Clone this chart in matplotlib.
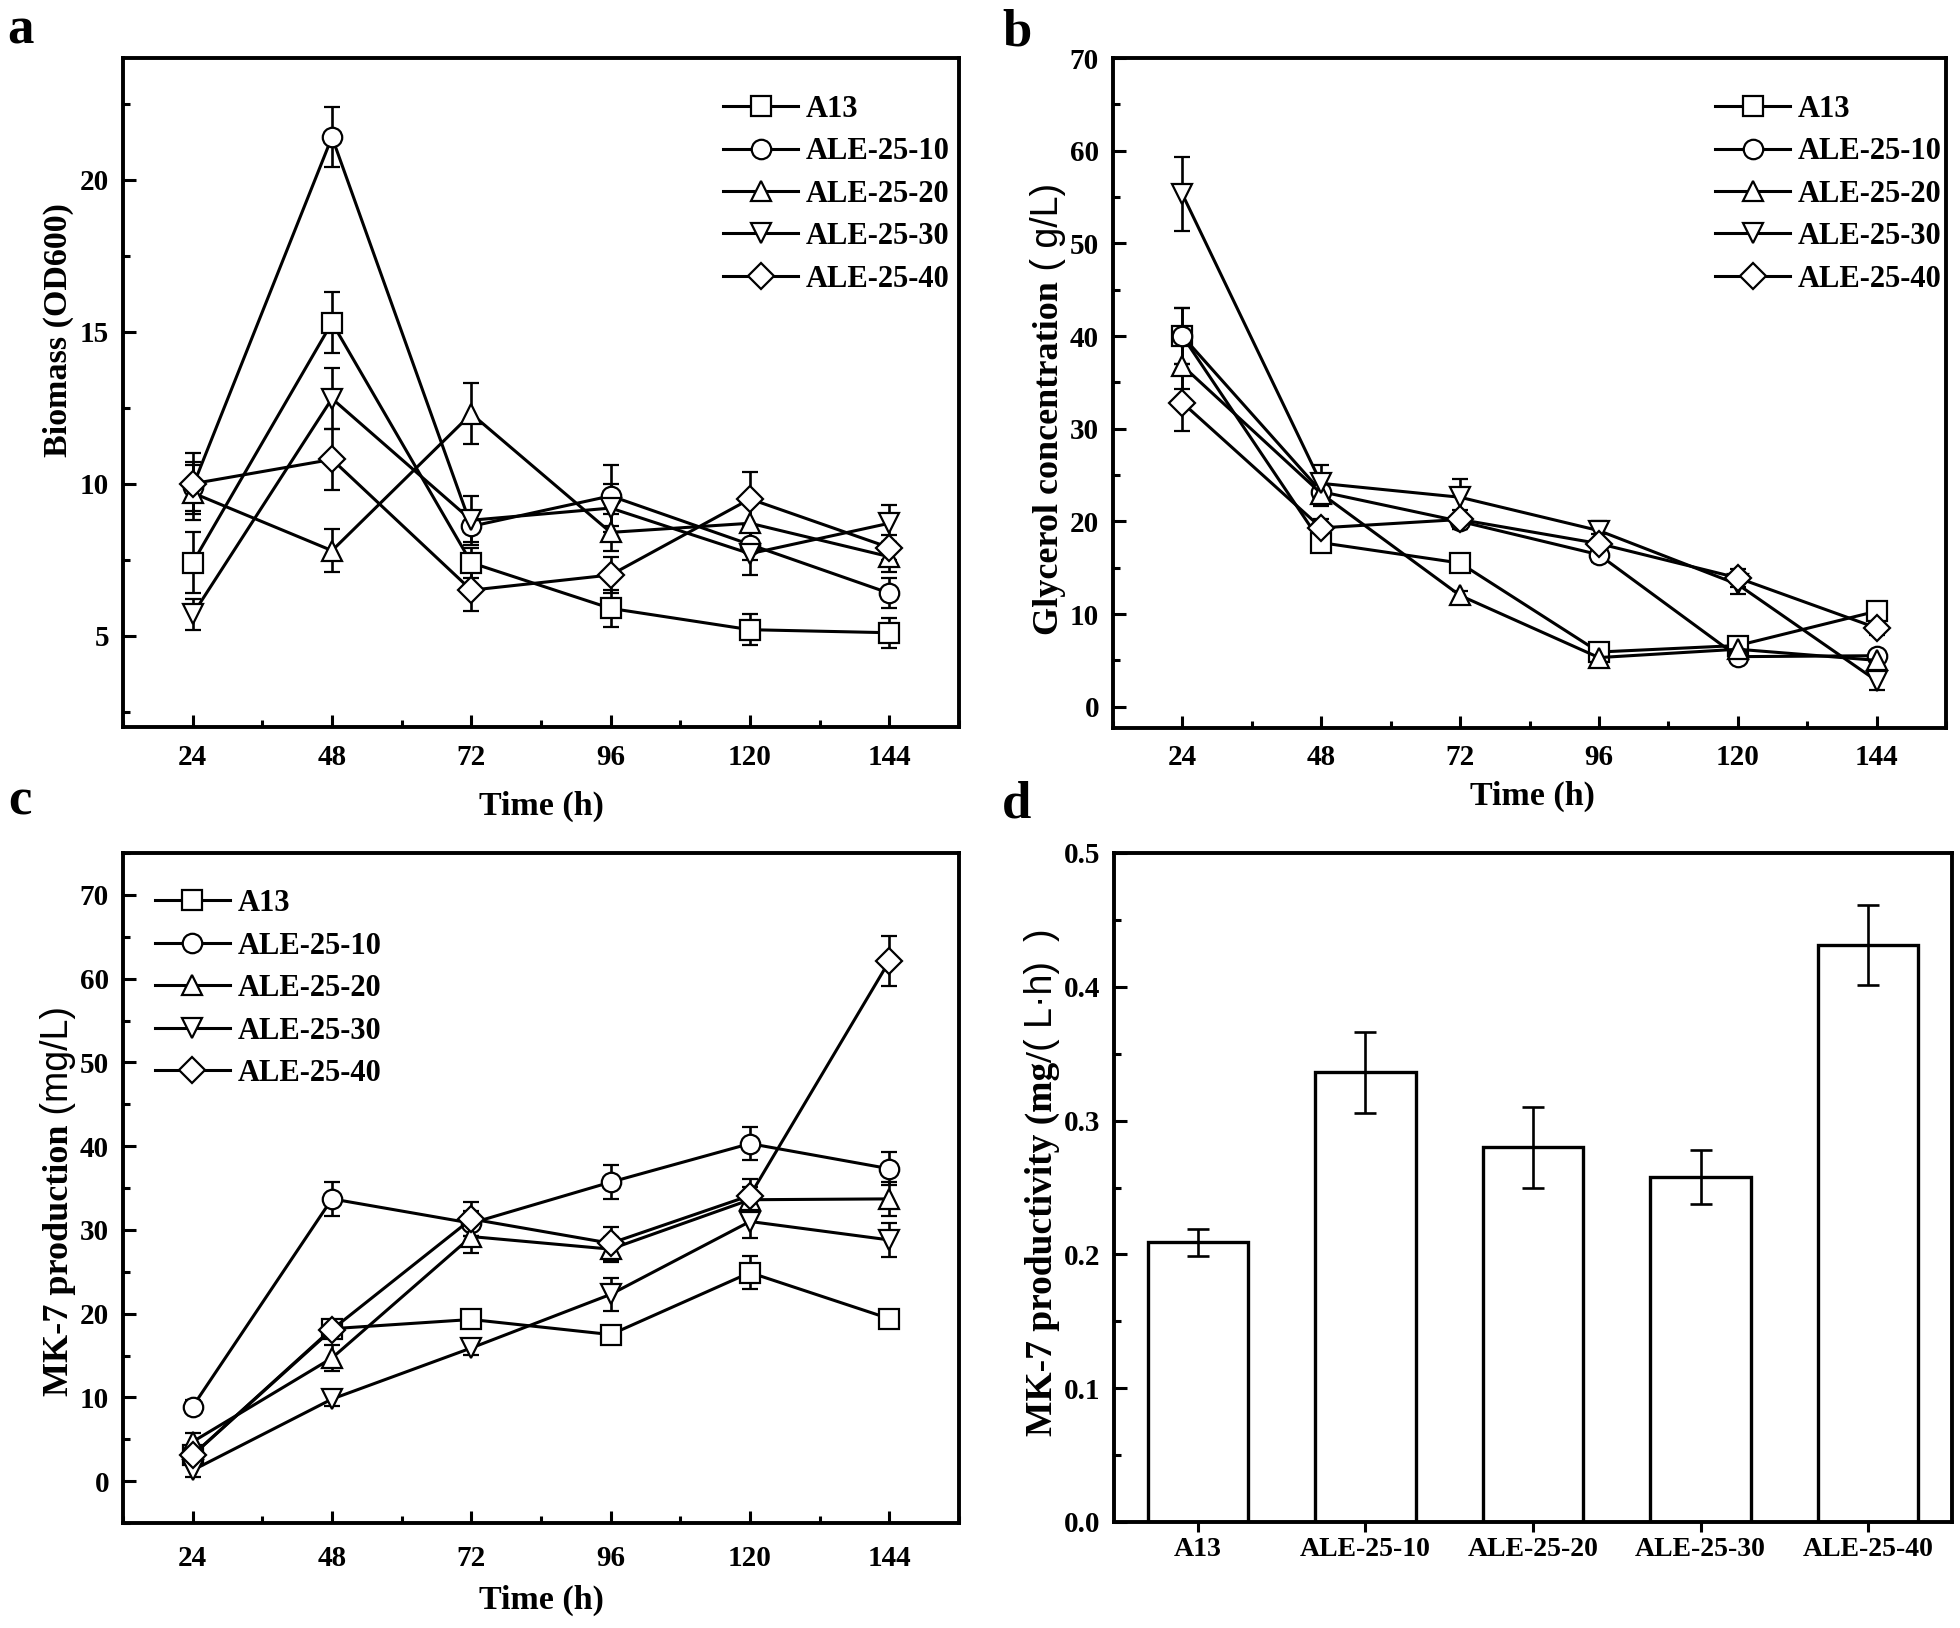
import matplotlib
matplotlib.use('Agg')
import matplotlib.pyplot as plt
from matplotlib.ticker import MultipleLocator
import numpy as np

plt.rcParams['font.family'] = ['Liberation Serif', 'Noto Sans CJK SC']
plt.rcParams['font.weight'] = 'bold'

# ---------------- data ----------------
hours = [24, 48, 72, 96, 120, 144]
strains = ['A13', 'ALE-25-10', 'ALE-25-20', 'ALE-25-30', 'ALE-25-40']
markers = ['s', 'o', '^', 'v', 'D']

# a: biomass (OD600)
bio_a13 = [7.4, 15.3, 7.4, 5.9, 5.2, 5.1]
bio_10 = [9.9, 21.4, 8.6, 9.6, 8.0, 6.4]
bio_20 = [9.7, 7.8, 12.3, 8.4, 8.7, 7.6]
bio_30 = [5.7, 12.8, 8.8, 9.2, 7.7, 8.7]
bio_40 = [10.0, 10.8, 6.5, 7.0, 9.5, 7.9]
bio_err_a13 = [1.0, 1.0, 0.5, 0.6, 0.5, 0.5]
bio_err_10 = [0.8, 1.0, 0.5, 1.0, 0.5, 0.5]
bio_err_20 = [0.9, 0.7, 1.0, 0.6, 0.7, 0.5]
bio_err_30 = [0.5, 1.0, 0.8, 0.8, 0.7, 0.6]
bio_err_40 = [1.0, 1.0, 0.7, 0.6, 0.9, 0.4]

# b: glycerol (g/L)
gly_a13 = [40.0, 17.7, 15.5, 5.9, 6.6, 10.3]
gly_10 = [40.0, 23.2, 20.0, 16.4, 5.4, 5.5]
gly_20 = [36.8, 23.0, 12.0, 5.3, 6.2, 5.0]
gly_30 = [55.3, 24.1, 22.6, 19.0, 13.2, 2.8]
gly_40 = [32.8, 19.3, 20.2, 17.6, 13.9, 8.5]
gly_err_a13 = [3.0, 0.5, 0.5, 0.5, 0.5, 0.5]
gly_err_10 = [3.0, 1.5, 0.8, 0.8, 0.5, 0.5]
gly_err_20 = [2.5, 1.0, 0.5, 0.5, 0.5, 0.5]
gly_err_30 = [4.0, 2.0, 2.0, 1.0, 1.0, 1.0]
gly_err_40 = [3.0, 1.0, 1.0, 1.0, 1.0, 0.8]

# c: MK-7 production (mg/L)
mk_a13 = [3.1, 18.2, 19.3, 17.5, 24.9, 19.4]
mk_10 = [8.9, 33.7, 30.8, 35.7, 40.3, 37.3]
mk_20 = [4.7, 14.7, 29.2, 27.7, 33.6, 33.7]
mk_30 = [1.3, 9.8, 15.9, 22.3, 31.0, 28.8]
mk_40 = [3.1, 18.1, 31.3, 28.4, 34.1, 62.1]
mk_err_a13 = [0.5, 0.8, 0.8, 0.8, 2.0, 0.8]
mk_err_10 = [0.8, 2.0, 1.5, 2.0, 2.0, 2.0]
mk_err_20 = [1.0, 1.5, 2.0, 1.5, 1.5, 2.0]
mk_err_30 = [0.8, 0.8, 0.8, 2.0, 2.0, 2.0]
mk_err_40 = [0.8, 1.0, 2.0, 2.0, 2.0, 3.0]

# d: MK-7 productivity
prod = [0.209, 0.336, 0.280, 0.258, 0.431]
prod_err = [0.010, 0.030, 0.030, 0.020, 0.030]

# ---------------- figure ----------------
W, H = 1960, 1628
fig = plt.figure(figsize=(W / 100, H / 100), dpi=100)


def px_axes(l, t, r, b):
    return fig.add_axes([l / W, 1 - b / H, (r - l) / W, (b - t) / H])


def style(ax, xpad):
    for s in ax.spines.values():
        s.set_linewidth(2.8)
    ax.tick_params(which='both', direction='in', top=False, right=False, width=2.2)
    ax.tick_params(which='major', length=9, labelsize=21)
    ax.tick_params(which='minor', length=5)
    ax.tick_params(axis='y', pad=10)
    ax.tick_params(axis='x', pad=xpad)


def vlabel(parts, xpix, ycpix):
    # rotated label made of pieces in different fonts, stacked along one baseline
    r = fig.canvas.get_renderer()
    ws = []
    for s, fam, wt, size, gap in parts:
        t = fig.text(0, 0, s, family=fam, weight=wt, size=size)
        ws.append(t.get_window_extent(r).width + gap)
        t.remove()
    y = ycpix + sum(ws) / 2
    for (s, fam, wt, size, gap), w in zip(parts, ws):
        y -= gap
        fig.text(xpix / W, 1 - y / H, s, family=fam, weight=wt, size=size,
                 rotation=90, rotation_mode='anchor', ha='left', va='baseline')
        y -= (w - gap)


def line_panel(ax, series, errs, ylim, ymaj, ymin, leg_xy):
    handles = []
    for vals, err, m, lab in zip(series, errs, markers, strains):
        cont = ax.errorbar(hours, vals, yerr=err, fmt='-', marker=m, color='black',
                           mfc='white', mec='black', mew=1.6, ms=14 if m != 'D' else 13,
                           lw=2.2, elinewidth=1.9, capsize=6, capthick=1.9, label=lab)
        handles.append(cont[0])
    ax.set_xlim(12, 156)
    ax.set_ylim(*ylim)
    ax.xaxis.set_major_locator(MultipleLocator(24))
    ax.xaxis.set_minor_locator(MultipleLocator(12))
    ax.yaxis.set_major_locator(MultipleLocator(ymaj))
    ax.yaxis.set_minor_locator(MultipleLocator(ymin))
    ax.legend(handles, strains, loc='upper left', bbox_to_anchor=leg_xy, frameon=False,
              fontsize=22, borderpad=0, borderaxespad=0, handlelength=2.45,
              handletextpad=0.25, labelspacing=0.44)


# a
ax_a = px_axes(123, 58, 959, 727)
style(ax_a, 12)
line_panel(ax_a, [bio_a13, bio_10, bio_20, bio_30, bio_40],
           [bio_err_a13, bio_err_10, bio_err_20, bio_err_30, bio_err_40],
           (2, 24), 5, 2.5, (0.718, 0.945))
ax_a.set_yticks([5, 10, 15, 20])

# b
ax_b = px_axes(1113, 58, 1946, 728)
style(ax_b, 11.5)
line_panel(ax_b, [gly_a13, gly_10, gly_20, gly_30, gly_40],
           [gly_err_a13, gly_err_10, gly_err_20, gly_err_30, gly_err_40],
           (-2.3, 70), 10, 5, (0.723, 0.945))

# c
ax_c = px_axes(123, 853, 959, 1523)
style(ax_c, 16)
line_panel(ax_c, [mk_a13, mk_10, mk_20, mk_30, mk_40],
           [mk_err_a13, mk_err_10, mk_err_20, mk_err_30, mk_err_40],
           (-5, 75), 10, 5, (0.038, 0.946))
ax_c.set_yticks(np.arange(0, 71, 10))

# d
ax_d = px_axes(1114, 853, 1952, 1522)
style(ax_d, 4)
xpos = np.arange(len(strains))
ax_d.bar(xpos, prod, width=0.6, color='white', edgecolor='black', linewidth=2.4)
ax_d.errorbar(xpos, prod, yerr=prod_err, fmt='none', ecolor='black',
              elinewidth=1.9, capsize=8, capthick=1.9)
ax_d.set_xlim(-0.5, 4.5)
ax_d.set_ylim(0, 0.5)
ax_d.set_xticks(xpos)
ax_d.set_xticklabels(strains)
ax_d.yaxis.set_major_locator(MultipleLocator(0.1))
ax_d.yaxis.set_minor_locator(MultipleLocator(0.05))
ax_d.yaxis.set_major_formatter(plt.FormatStrFormatter('%.1f'))
ax_d.tick_params(axis='x', which='major', direction='out', length=7, labelsize=20, pad=4)

# axis labels
for xc, yc in [(541, 806), (1532, 796), (541, 1600)]:
    fig.text(xc / W, 1 - yc / H, 'Time (h)', ha='center', va='center', size=24.5)

serif = 'Liberation Serif'
sans = 'Liberation Sans'
vlabel([('Biomass (OD600)', serif, 'bold', 24.5, 0)], 67, 330)
vlabel([('Glycerol concentration', serif, 'bold', 26, 0),
        (' ( g/L)', sans, 'normal', 27, 0)], 1058, 409)
vlabel([('MK-7 production', serif, 'bold', 26, 0),
        (' (mg/L)', sans, 'normal', 27, 0)], 68, 1201)
vlabel([('MK-7 productivity (mg/', serif, 'bold', 27, 0),
        ('( L·h)', sans, 'normal', 27, 0),
        (')', sans, 'normal', 27, 20)], 1052, 1182)

# panel letters
for s, xp, yp in [('a', 7, 44), ('b', 1002, 46), ('c', 8, 815), ('d', 1002, 818)]:
    fig.text(xp / W, 1 - yp / H, s, size=38, ha='left', va='baseline')

fig.savefig('out.png', dpi=100)
